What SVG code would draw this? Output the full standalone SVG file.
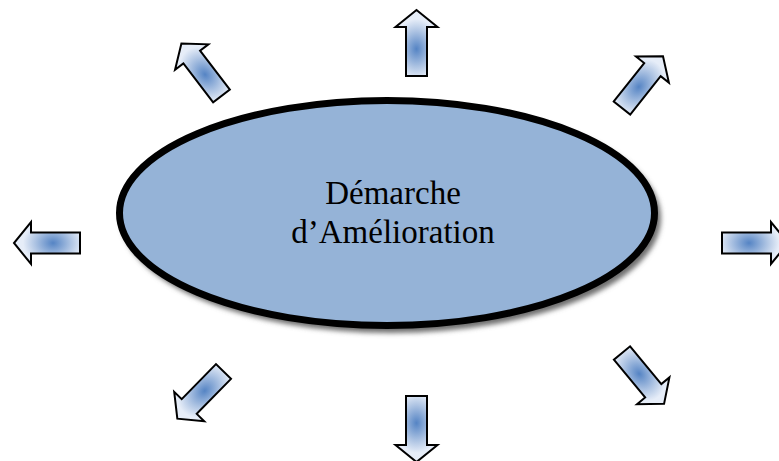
<svg xmlns="http://www.w3.org/2000/svg" width="779" height="461" viewBox="0 0 779 461">
<style>
.arrow{fill:url(#ag);stroke:#000;stroke-width:2;stroke-linejoin:miter}
.lbl{font-family:"Liberation Serif","Times New Roman",serif;font-size:33px;fill:#000;text-anchor:middle}
</style>
<defs>
<radialGradient id="ag" gradientUnits="userSpaceOnUse" cx="27" cy="0" r="30" gradientTransform="translate(27 0) scale(1 0.75) translate(-27 0)">
<stop offset="0" stop-color="#5584c4"/>
<stop offset="0.6" stop-color="#aec4e3"/>
<stop offset="1" stop-color="#e6edf8"/>
</radialGradient>
<polygon id="arr" points="0,-10.5 49,-10.5 49,-21 66,0 49,21 49,10.5 0,10.5"/>
<filter id="blur" x="-10%" y="-10%" width="120%" height="120%"><feGaussianBlur stdDeviation="2.5"/></filter>
</defs>
<g id="connectors">
<use href="#arr" class="arrow" transform="translate(416.5 76) rotate(-90)"/>
<use href="#arr" class="arrow" transform="translate(416.5 396) rotate(90)"/>
<use href="#arr" class="arrow" transform="translate(80 243) rotate(180)"/>
<use href="#arr" class="arrow" transform="translate(722 243)"/>
<use href="#arr" class="arrow" transform="translate(221.5 96) rotate(-127.4)"/>
<use href="#arr" class="arrow" transform="translate(622 108) rotate(-51.6)"/>
<use href="#arr" class="arrow" transform="translate(223.5 371.5) rotate(134.4)"/>
<use href="#arr" class="arrow" transform="translate(622 353) rotate(50.4)"/>
</g>
<g id="center">
<ellipse cx="391" cy="218" rx="270" ry="115" fill="#6f6f6f" filter="url(#blur)"/>
<ellipse cx="387" cy="213" rx="267.5" ry="112.5" fill="#95b3d7" stroke="#000" stroke-width="7"/>
<text class="lbl" x="393" y="204">Démarche</text>
<text class="lbl" x="393" y="243">d’Amélioration</text>
</g>
</svg>
